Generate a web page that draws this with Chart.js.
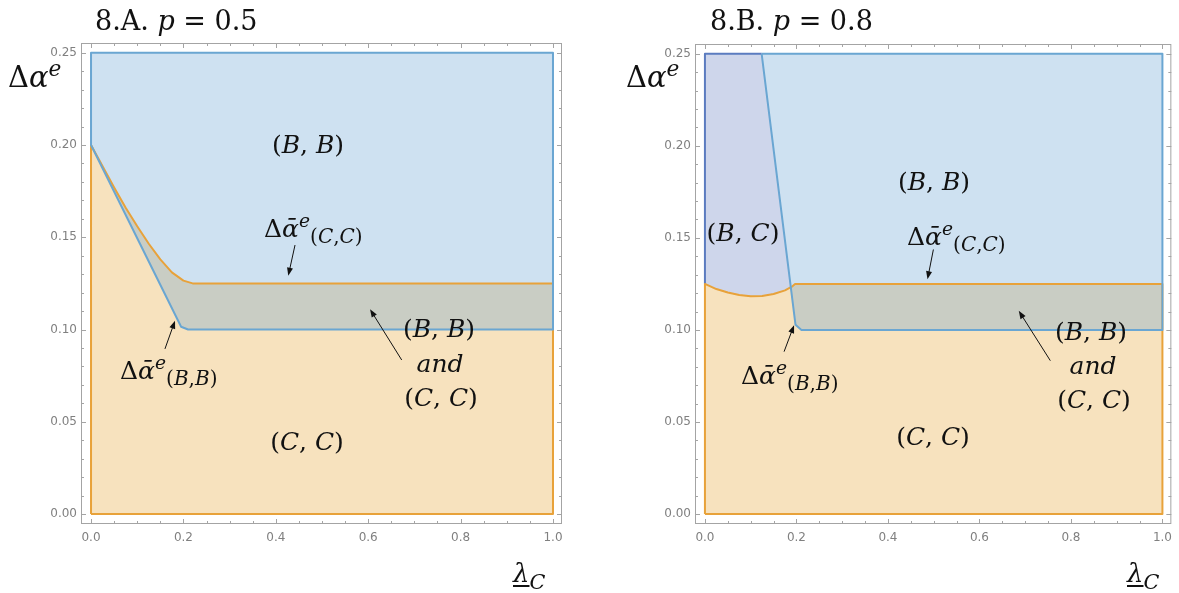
<!DOCTYPE html>
<html>
<head>
<meta charset="utf-8">
<script src="https://cdn.jsdelivr.net/npm/chart.js@4.4.1/dist/chart.umd.min.js"></script>
<style>
  body { margin: 0; background: #fff; }
  #wrap { position: relative; width: 1179px; height: 593px; overflow: hidden; }
  canvas { position: absolute; top: 0; }
  .t { position: absolute; font-family: 'DejaVu Serif', serif; line-height: 1; white-space: nowrap; color: #111; }
  .t i { font-style: italic; }
  .t .sp { font-size: 0.75em; position: relative; top: -0.55em; }
  .t .sb { font-size: 0.8em; position: relative; top: 0.32em; }
  .t .ul { text-decoration: underline; text-decoration-thickness: 1.5px; text-underline-offset: 3px; }
</style>
</head>
<body>
<div id="wrap">
  <canvas id="chartA" width="580" height="593" style="left:0"></canvas>
  <canvas id="chartB" width="579" height="593" style="left:600px"></canvas>
</div>
<script>
// axis ticks
const xTicks = [0, 0.2, 0.4, 0.6, 0.8, 1.0];
const yTicks = [0, 0.05, 0.10, 0.15, 0.20, 0.25];

// 8.A  p = 0.5
// boundary of (C,C) region (orange) and of (B,B) region (blue)
const ccX_A = [0, 0.025, 0.05, 0.075, 0.1, 0.125, 0.15, 0.175, 0.2, 0.22, 1];
const ccY_A = [0.200, 0.1885, 0.177, 0.166, 0.156, 0.1465, 0.138, 0.131, 0.1265, 0.125, 0.125];
const bbX_A = [0, 0.195, 0.21, 1];
const bbY_A = [0.200, 0.1015, 0.100, 0.100];

// 8.B  p = 0.8
const ccX_B = [0, 0.025, 0.05, 0.075, 0.1, 0.125, 0.15, 0.175, 0.19, 0.197, 1];
const ccY_B = [0.125, 0.1222, 0.1203, 0.119, 0.1183, 0.1184, 0.1195, 0.1215, 0.1235, 0.125, 0.125];
const bbX_B = [0.124, 0.198, 0.211, 1];
const bbY_B = [0.250, 0.1028, 0.100, 0.100];
const crossB = { x: 0.188, y: 0.1233 };   // where the steep blue line meets the orange curve

const yTop = 0.25;

// annotation arrows [tailX, tailY, headX, headY]
const arrowsA = [
  [0.4416, 0.1458, 0.427, 0.1292],
  [0.160, 0.0895, 0.1818, 0.1048],
  [0.6725, 0.0835, 0.604, 0.111]
];
const arrowsB = [
  [0.4994, 0.1437, 0.4865, 0.1275],
  [0.173, 0.0882, 0.1948, 0.1026],
  [0.755, 0.0833, 0.686, 0.1104]
];

const orangeLine = '#e8a23a', orangeFill = 'rgba(228,160,40,0.3)';
const blueLine = '#6aa6d2', blueFill = 'rgba(94,157,210,0.3)';
const purpleLine = '#5b7cc0', purpleFill = 'rgba(94,118,190,0.3)';

function pts(xs, ys) { return xs.map((x, i) => ({ x: x, y: ys[i] })); }

function region(data, line, fill) {
  return {
    data: data, showLine: true, fill: 'shape', tension: 0,
    borderColor: line, backgroundColor: fill, borderWidth: 2,
    pointRadius: 0, borderJoinStyle: 'round'
  };
}

function outline(data, line) {
  return {
    data: data, showLine: true, fill: false, tension: 0,
    borderColor: line, borderWidth: 2, pointRadius: 0, borderJoinStyle: 'round'
  };
}

const framePlugin = {
  id: 'frame',
  afterDatasetsDraw(chart, args, opts) {
    const { ctx, chartArea: a, scales: { x, y } } = chart;
    ctx.save();
    ctx.strokeStyle = '#a4a4a4';
    ctx.lineWidth = 1;
    ctx.strokeRect(a.left + 0.5, a.top + 0.5, a.width - 1, a.height - 1);
    const seg = (x1, y1, x2, y2) => { ctx.beginPath(); ctx.moveTo(x1, y1); ctx.lineTo(x2, y2); ctx.stroke(); };
    for (let i = 0; i <= 20; i++) {
      const px = Math.round(x.getPixelForValue(i * 0.05)) + 0.5;
      const len = i % 4 === 0 ? 5 : 3;
      seg(px, a.bottom, px, a.bottom - len);
      seg(px, a.top, px, a.top + len);
    }
    for (let i = 0; i <= 25; i++) {
      const py = Math.round(y.getPixelForValue(i * 0.01)) + 0.5;
      const len = i % 5 === 0 ? 5 : 3;
      seg(a.left, py, a.left + len, py);
      seg(a.right, py, a.right - len, py);
    }
    ctx.strokeStyle = '#111';
    ctx.fillStyle = '#111';
    (opts.arrows || []).forEach(ar => {
      const x1 = x.getPixelForValue(ar[0]), y1 = y.getPixelForValue(ar[1]);
      const x2 = x.getPixelForValue(ar[2]), y2 = y.getPixelForValue(ar[3]);
      const ang = Math.atan2(y2 - y1, x2 - x1), c = Math.cos(ang), s = Math.sin(ang);
      seg(x1, y1, x2 - 6 * c, y2 - 6 * s);
      ctx.beginPath();
      ctx.moveTo(x2, y2);
      ctx.lineTo(x2 - 8 * c + 3 * s, y2 - 8 * s - 3 * c);
      ctx.lineTo(x2 - 8 * c - 3 * s, y2 - 8 * s + 3 * c);
      ctx.closePath();
      ctx.fill();
    });
    ctx.restore();
  }
};

function makeChart(id, datasets, arrows, yWidth, pad) {
  return new Chart(document.getElementById(id), {
    type: 'scatter',
    data: { datasets: datasets },
    plugins: [framePlugin],
    options: {
      responsive: false,
      animation: false,
      devicePixelRatio: 1,
      events: [],
      layout: { padding: pad },
      plugins: {
        legend: { display: false },
        tooltip: { enabled: false },
        filler: { drawTime: 'beforeDatasetsDraw' },
        frame: { arrows: arrows }
      },
      scales: {
        x: {
          type: 'linear', min: -0.0217, max: 1.0195,
          grid: { display: false, drawTicks: false }, border: { display: false },
          afterBuildTicks: s => { s.ticks = xTicks.map(v => ({ value: v })); },
          afterFit: s => { s.height = 30; },
          ticks: { padding: 7, color: '#808080', font: { family: 'DejaVu Sans', size: 12 },
                   callback: v => v.toFixed(1), maxRotation: 0 }
        },
        y: {
          type: 'linear', min: -0.0054, max: 0.2553,
          grid: { display: false, drawTicks: false }, border: { display: false },
          afterBuildTicks: s => { s.ticks = yTicks.map(v => ({ value: v })); },
          afterFit: s => { s.width = yWidth; },
          ticks: { padding: 4, color: '#808080', font: { family: 'DejaVu Sans', size: 12 },
                   callback: v => v.toFixed(2) }
        }
      }
    }
  });
}

// panel A regions
const ccA = pts(ccX_A, ccY_A);
const bbA = pts(bbX_A, bbY_A);
const orangeA = [{ x: 0, y: 0 }, ...ccA, { x: 1, y: 0 }, { x: 0, y: 0 }];
const blueA = [{ x: 0, y: yTop }, ...bbA, { x: 1, y: yTop }, { x: 0, y: yTop }];

// panel B regions
const ccB = pts(ccX_B, ccY_B);
const bbB = pts(bbX_B, bbY_B);
const orangeB = [{ x: 0, y: 0 }, ...ccB, { x: 1, y: 0 }, { x: 0, y: 0 }];
const blueB = [...bbB, { x: 1, y: yTop }, bbB[0]];
const purpleB = [{ x: 0, y: yTop }, bbB[0], crossB,
  ...ccB.filter(p => p.x < crossB.x).reverse(), { x: 0, y: yTop }];
// (B,C) region: darker outline only on its left and top edges
const purpleEdgeB = [ccB[0], { x: 0, y: yTop }, bbB[0]];

const purpleRegion = region(purpleB, 'rgba(0,0,0,0)', purpleFill);
purpleRegion.borderWidth = 0;

makeChart('chartA', [
  region(blueA, blueLine, blueFill),
  region(orangeA, orangeLine, orangeFill)
], arrowsA, 81, { left: 0, top: 43, right: 18, bottom: 39 });

makeChart('chartB', [
  region(blueB, blueLine, blueFill),
  region(orangeB, orangeLine, orangeFill),
  outline(purpleEdgeB, purpleLine),
  purpleRegion
], arrowsB, 95, { left: 0, top: 44, right: 2, bottom: 39 });

// text labels: x = left edge (or centre when c is set), y = baseline, page pixels
const pair = (a, b) => '(<i>' + a + '</i>, <i>' + b + '</i>)';
const dbar = s => '\u0394<i>\u03b1\u0304</i><span class="sp"><i>e</i></span><span class="sb">(<i>' + s[0] + '</i>,<i>' + s[1] + '</i>)</span>';
const textLabels = [
  { x: 95, y: 30, size: 27, html: '8.A. <i>p</i> = 0.5' },
  { x: 710, y: 30, size: 27, html: '8.B. <i>p</i> = 0.8' },
  { x: 8, y: 88, size: 29, html: '\u0394<i>\u03b1</i><span class="sp"><i>e</i></span>' },
  { x: 626, y: 88, size: 29, html: '\u0394<i>\u03b1</i><span class="sp"><i>e</i></span>' },
  { x: 513, y: 582, size: 26, html: '<i class="ul">\u03bb</i><span class="sb"><i>C</i></span>' },
  { x: 1127, y: 582, size: 26, html: '<i class="ul">\u03bb</i><span class="sb"><i>C</i></span>' },
  // panel A
  { x: 308, y: 153, size: 25, c: 1, html: pair('B', 'B') },
  { x: 264, y: 237, size: 25, html: dbar('CC') },
  { x: 120, y: 379, size: 25, html: dbar('BB') },
  { x: 439, y: 337, size: 25, c: 1, html: pair('B', 'B') },
  { x: 440, y: 372, size: 25, c: 1, html: '<i>and</i>' },
  { x: 441, y: 406, size: 25, c: 1, html: pair('C', 'C') },
  { x: 307, y: 450, size: 25, c: 1, html: pair('C', 'C') },
  // panel B
  { x: 934, y: 190, size: 25, c: 1, html: pair('B', 'B') },
  { x: 743, y: 241, size: 25, c: 1, html: pair('B', 'C') },
  { x: 907, y: 245, size: 25, html: dbar('CC') },
  { x: 741, y: 384, size: 25, html: dbar('BB') },
  { x: 1091, y: 340, size: 25, c: 1, html: pair('B', 'B') },
  { x: 1093, y: 374, size: 25, c: 1, html: '<i>and</i>' },
  { x: 1094, y: 408, size: 25, c: 1, html: pair('C', 'C') },
  { x: 933, y: 445, size: 25, c: 1, html: pair('C', 'C') }
];

const wrap = document.getElementById('wrap');
textLabels.forEach(l => {
  const d = document.createElement('div');
  d.className = 't';
  d.style.fontSize = l.size + 'px';
  d.style.left = l.x + 'px';
  d.style.top = (l.y - 0.846 * l.size) + 'px';
  if (l.c) d.style.transform = 'translateX(-50%)';
  d.innerHTML = l.html;
  wrap.appendChild(d);
});
</script>
</body>
</html>
